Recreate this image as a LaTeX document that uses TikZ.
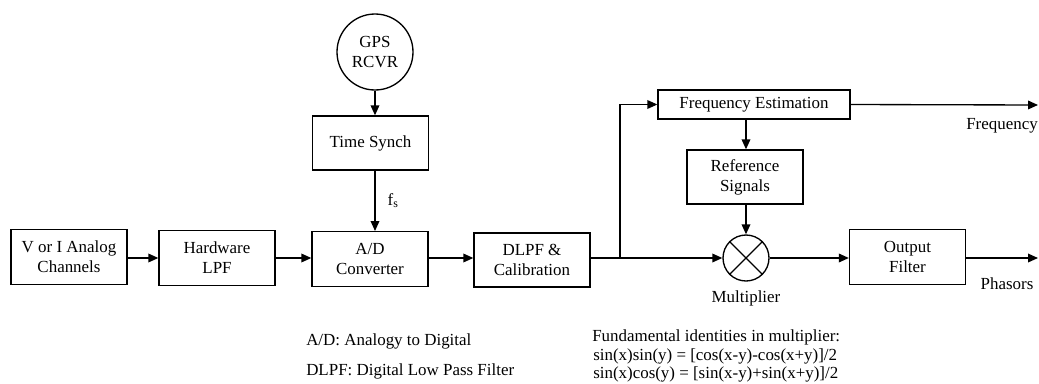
\documentclass[tikz,border=0pt]{standalone}
\usepackage{fontspec}
\setmainfont{Liberation Serif}
\usetikzlibrary{arrows.meta}
\begin{document}
\begin{tikzpicture}[x=0.75pt,y=-0.75pt,
  every node/.style={font=\fontsize{12.7}{15}\selectfont, inner sep=0pt},
  blk/.style={draw, line width=1pt, align=center, minimum width=87pt, minimum height=41pt},
  flow/.style={line width=1pt, -{Triangle[length=7.5pt,width=6.5pt]}},
  wire/.style={line width=1pt}]
\useasboundingbox (0,0) rectangle (1039,383);

% time reference chain
\node[draw, circle, line width=1pt, minimum size=57pt, align=center] (gps) at (375,52) {GPS\\RCVR};
\node[blk, minimum height=40.5pt] (ts) at (370.5,143) {Time Synch};

% main signal row
\node[blk] (vi) at (69,257) {V or I Analog\\Channels};
\node[blk] (hw) at (217,258) {Hardware\\LPF};
\node[blk] (ad) at (370,259) {A/D\\Converter};
\node[blk, minimum height=40.5pt] (dl) at (532,260) {DLPF \&\\Calibration};
\node[draw, circle, line width=1pt, minimum size=34.5pt] (mul) at (746,258) {};
\draw[line width=1pt] (mul.north east) -- (mul.south west) (mul.north west) -- (mul.south east);
\node[blk] (of) at (907.5,257) {Output\\Filter};

% frequency branch
\node[blk, minimum width=144pt, minimum height=21.75pt] (fe) at (754,104.5) {Frequency Estimation};
\node[blk, minimum height=40.5pt] (rs) at (745,177) {Reference\\Signals};

\coordinate (split) at (620,258);
\coordinate (fout) at (1038,105);
\coordinate (pout) at (1038,258);

% connectors
\draw[flow] (gps.south) -- (gps.south |- ts.north);
\draw[flow] (gps.south |- ts.south) -- node[right=9pt, pos=0.5] {f\textsubscript{s}} (gps.south |- ad.north);
\draw[flow] (vi.east |- hw) -- (hw.west);
\draw[flow] (hw.east) -- (hw.east -| ad.west);
\draw[flow] (ad.east |- split) -- (ad.east |- split -| dl.west);
\draw[wire] (dl.east |- split) -- (split);
\draw[flow] (split) -- (mul.west);
\draw[flow] (split) |- (fe.west);
\draw[flow] (fe.east) -- (fout);
\draw[flow] (mul.north |- fe.south) -- (mul.north |- rs.north);
\draw[flow] (mul.north |- rs.south) -- (mul.north);
\draw[flow] (mul.east) -- (mul.east -| of.west);
\draw[flow] (of.east |- pout) -- (pout);

% labels
\node (flbl) at (1002,126) {Frequency};
\node (plbl) at (1007,284) {Phasors};
\node (mlbl) at (746,298) {Multiplier};

% notes
\node[anchor=base west] (n1) at (306,345) {A/D: Analogy to Digital};
\node[anchor=base west] (n2) at (306,375) {DLPF: Digital Low Pass Filter};
\node[anchor=base west] (f1) at (592,341) {Fundamental identities in multiplier:};
\node[anchor=base west] (f2) at (593,360) {sin(x)sin(y) = [cos(x-y)-cos(x+y)]/2};
\node[anchor=base west] (f3) at (593,378) {sin(x)cos(y) = [sin(x-y)+sin(x+y)]/2};
\end{tikzpicture}
\end{document}
